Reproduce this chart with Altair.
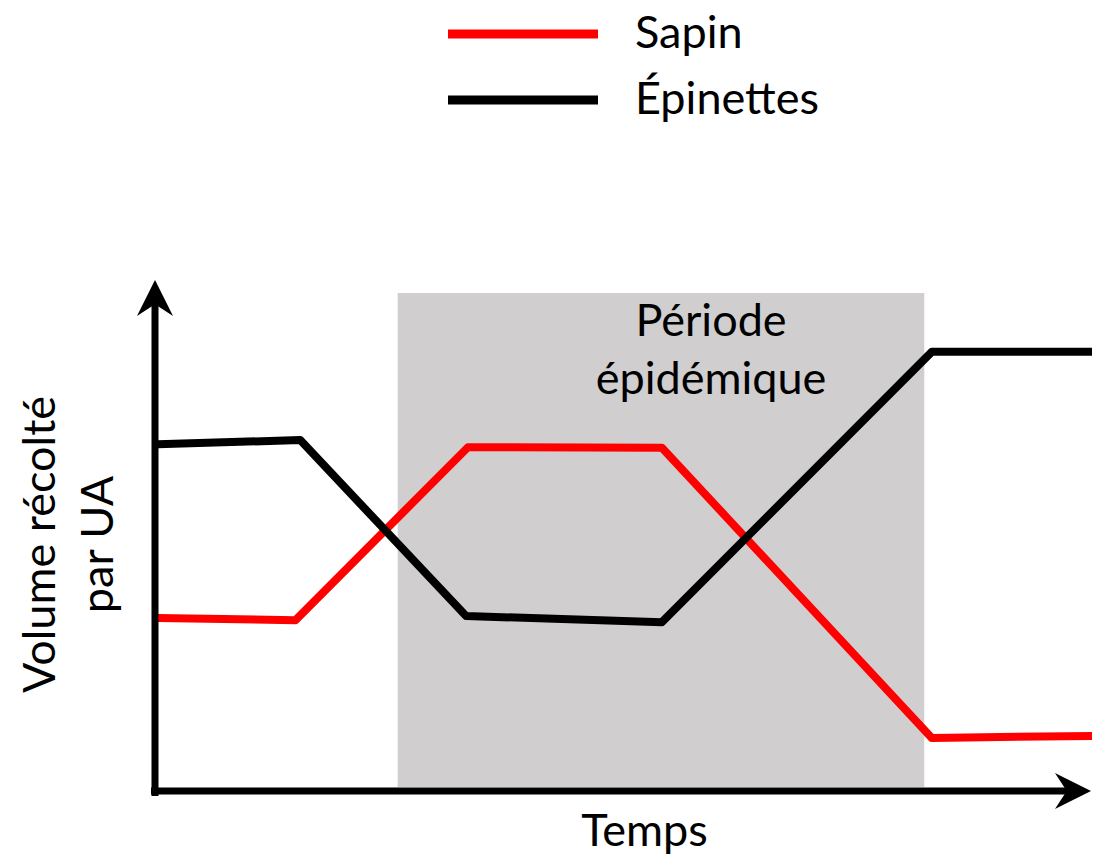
import altair as alt
import pandas as pd

# ---- data (time and volume in arbitrary units 0-100) ----
series_names = ["Sapin", "Épinettes"]
series_colors = ["#ff0000", "#000000"]

sapin_time = [0.3, 15.0, 33.4, 54.1, 82.9, 100.0]
sapin_volume = [34.1, 33.7, 67.6, 67.5, 10.6, 11.0]

epinettes_time = [0.3, 15.5, 33.2, 54.1, 82.9, 100.0]
epinettes_volume = [68.2, 69.0, 34.5, 33.3, 86.3, 86.3]

epidemic_start = [25.9]
epidemic_end = [82.1]
epidemic_label = ["Période", "épidémique"]

x_title = "Temps"
y_title = ["Volume récolté", "par UA"]

FONT = "Lato"
FS = 45

lines_df = pd.DataFrame(
    {
        "temps": sapin_time + epinettes_time,
        "volume": sapin_volume + epinettes_volume,
        "essence": [series_names[0]] * len(sapin_time)
        + [series_names[1]] * len(epinettes_time),
        "ordre": list(range(len(sapin_time))) + list(range(len(epinettes_time))),
    }
)
period_df = pd.DataFrame({"debut": epidemic_start, "fin": epidemic_end})
legend_df = pd.DataFrame({"essence": series_names})

xs = alt.Scale(domain=[0, 100], nice=False, zero=False)
ys = alt.Scale(domain=[0, 100], nice=False, zero=False)
cs = alt.Scale(domain=series_names, range=series_colors)

W, H = 937, 510

period = (
    alt.Chart(period_df)
    .mark_rect(color="#d0cecf")
    .encode(
        x=alt.X(
            "debut:Q",
            scale=xs,
            axis=alt.Axis(
                title=x_title,
                domain=False,
                ticks=False,
                labels=False,
                grid=False,
                titleFont=FONT,
                titleFontSize=FS,
                titleFontWeight="normal",
                titleColor="#000000",
                titleX=489,
                titleY=39,
                titleAlign="center",
                titleBaseline="middle",
            ),
        ),
        x2="fin:Q",
        y=alt.value(11),
        y2=alt.value(505),
    )
)

period_text = (
    alt.Chart(period_df)
    .mark_text(
        font=FONT,
        fontSize=FS,
        color="#000000",
        align="center",
        baseline="middle",
        lineHeight=58,
    )
    .encode(x=alt.value(556), y=alt.value(40), text=alt.value(epidemic_label))
)

lines = (
    alt.Chart(lines_df)
    .mark_line(strokeWidth=8, strokeJoin="round", strokeCap="butt")
    .encode(
        x=alt.X("temps:Q", scale=xs),
        y=alt.Y(
            "volume:Q",
            scale=ys,
            axis=alt.Axis(
                title=y_title,
                domain=False,
                ticks=False,
                labels=False,
                grid=False,
                titleFont=FONT,
                titleFontSize=FS,
                titleFontWeight="normal",
                titleColor="#000000",
                titleAngle=270,
                titleX=-115,
                titleY=262,
                titleAlign="center",
                titleBaseline="middle",
                titleLineHeight=58,
            ),
        ),
        color=alt.Color("essence:N", scale=cs, legend=None),
        detail="essence:N",
        order="ordre:Q",
    )
)

# axis lines with arrowheads
y_axis_line = (
    alt.Chart(period_df)
    .mark_rule(color="#000000", strokeWidth=7)
    .encode(x=alt.value(0), y=alt.value(514), y2=alt.value(12))
)
x_axis_line = (
    alt.Chart(period_df)
    .mark_rule(color="#000000", strokeWidth=7)
    .encode(x=alt.value(-4), x2=alt.value(925), y=alt.value(509))
)
up_arrow = (
    alt.Chart(period_df)
    .mark_point(
        shape="M0,-1L1,1L0,0.35L-1,1Z",
        size=1300,
        filled=True,
        color="#000000",
        opacity=1,
    )
    .encode(x=alt.value(0), y=alt.value(16))
)
right_arrow = (
    alt.Chart(period_df)
    .mark_point(
        shape="M1,0L-1,-1L-0.35,0L-1,1Z",
        size=1300,
        filled=True,
        color="#000000",
        opacity=1,
    )
    .encode(x=alt.value(918), y=alt.value(509))
)

# manual legend at the top
legend_layers = []
legend_y = [-248, -182]
for name, ly in zip(series_names, legend_y):
    sub = legend_df[legend_df["essence"] == name]
    legend_layers.append(
        alt.Chart(sub)
        .mark_rule(strokeWidth=9)
        .encode(
            x=alt.value(293),
            x2=alt.value(443),
            y=alt.value(ly),
            color=alt.Color("essence:N", scale=cs, legend=None),
        )
    )
    legend_layers.append(
        alt.Chart(sub)
        .mark_text(font=FONT, fontSize=FS, color="#000000", align="left", baseline="middle")
        .encode(x=alt.value(480), y=alt.value(ly), text="essence:N")
    )

chart = (
    alt.layer(
        period,
        period_text,
        lines,
        y_axis_line,
        x_axis_line,
        up_arrow,
        right_arrow,
        *legend_layers,
    )
    .properties(
        width=W,
        height=H,
        autosize=alt.AutoSizeParams(type="none"),
        padding={"left": 147, "top": 274, "right": 0, "bottom": 64},
        background="#ffffff",
    )
    .configure_view(stroke=None)
)

chart.save("out.html", embed_options={"renderer": "svg", "actions": False})
